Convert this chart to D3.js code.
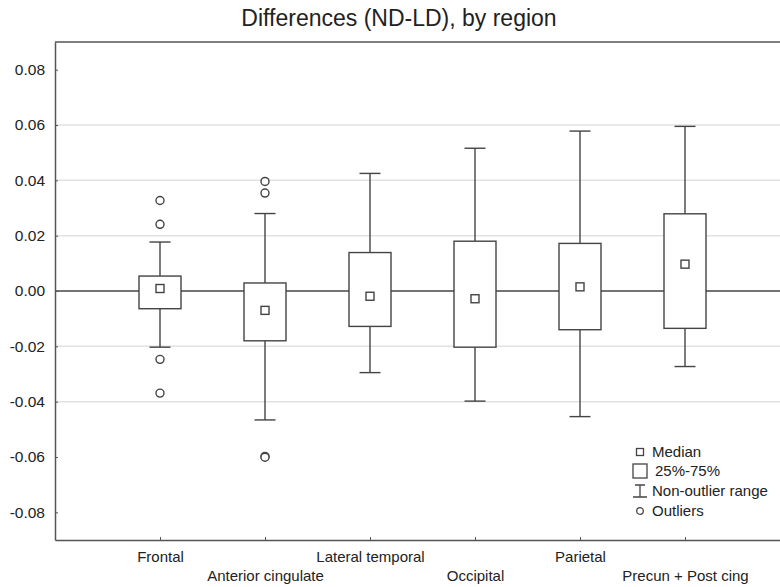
<!DOCTYPE html>
<html lang="en">
<head>
    <meta charset="UTF-8">
    <title>Differences (ND-LD), by region</title>
    <style>
        body {
            margin: 0;
            background-color: #fff;
            font-family: "Liberation Sans", Arial, sans-serif;
        }
        svg text {
            fill: #222;
        }
    </style>
</head>
<body>
    <div id="chart"></div>
    <script src="https://d3js.org/d3.v7.min.js"></script>
    <script>
        // Values
        const categories = ["Frontal", "Anterior cingulate", "Lateral temporal", "Occipital", "Parietal", "Precun + Post cing"];
        const whiskerHigh = [0.0177, 0.0280, 0.0425, 0.0516, 0.0578, 0.0595];
        const q3 = [0.0054, 0.0029, 0.0139, 0.0180, 0.0172, 0.0279];
        const medians = [0.0009, -0.0070, -0.0019, -0.0028, 0.0015, 0.0097];
        const q1 = [-0.0064, -0.0180, -0.0128, -0.0203, -0.0140, -0.0135];
        const whiskerLow = [-0.0203, -0.0466, -0.0295, -0.0398, -0.0454, -0.0273];
        const outliers = [
            [0.0327, 0.0241, -0.0247, -0.0369],
            [0.0396, 0.0354, -0.0598, -0.0601],
            [], [], [], []
        ];
        const yTicks = [-0.08, -0.06, -0.04, -0.02, 0, 0.02, 0.04, 0.06, 0.08];
        const gridTicks = [-0.04, -0.02, 0.02, 0.04, 0.06];
        const legendLabels = ["Median", "25%-75%", "Non-outlier range", "Outliers"];

        const W = 780, H = 587;
        const margin = { top: 42, left: 55, bottom: 47 };
        const plotRight = 790; // plot runs past the window edge
        const plotBottom = H - margin.bottom;

        const svg = d3.select("#chart")
            .append("svg")
            .attr("width", W)
            .attr("height", H);

        const x = d3.scalePoint()
            .domain(categories)
            .range([margin.left, plotRight])
            .padding(1);

        const y = d3.scaleLinear()
            .domain([-0.09, 0.09])
            .range([plotBottom, margin.top]);

        const ink = "#444";
        const fmt = d3.format(".2f");

        // title
        svg.append("text")
            .attr("x", 399)
            .attr("y", 26)
            .attr("text-anchor", "middle")
            .style("font-size", "23px")
            .text("Differences (ND-LD), by region");

        // grid
        svg.append("g")
            .selectAll("line")
            .data(gridTicks)
            .enter()
            .append("line")
            .attr("x1", margin.left)
            .attr("x2", plotRight)
            .attr("y1", d => y(d))
            .attr("y2", d => y(d))
            .attr("stroke", "#e2e2e2")
            .attr("stroke-width", 1.5);

        // zero line
        svg.append("line")
            .attr("x1", margin.left)
            .attr("x2", plotRight)
            .attr("y1", y(0))
            .attr("y2", y(0))
            .attr("stroke", ink)
            .attr("stroke-width", 1.4);

        // top frame
        svg.append("line")
            .attr("x1", margin.left)
            .attr("x2", plotRight)
            .attr("y1", margin.top)
            .attr("y2", margin.top)
            .attr("stroke", "#555")
            .attr("stroke-width", 1.5);

        // Y axis
        const yAxis = svg.append("g")
            .attr("transform", `translate(${margin.left},0)`)
            .call(d3.axisLeft(y)
                .tickValues(yTicks)
                .tickFormat(d => fmt(d).replace("\u2212", "-"))
                .tickSizeInner(-3)
                .tickSizeOuter(0)
                .tickPadding(10));
        yAxis.select(".domain").attr("stroke", "#555").attr("stroke-width", 1.5);
        yAxis.selectAll(".tick line").attr("stroke", "#555");
        yAxis.selectAll("text")
            .style("font-size", "15.5px")
            .style("font-family", "'Liberation Sans', Arial, sans-serif")
            .attr("fill", "#222");

        // X axis
        const xAxis = svg.append("g")
            .attr("transform", `translate(0,${plotBottom})`)
            .call(d3.axisBottom(x)
                .tickSizeInner(-3)
                .tickSizeOuter(0));
        xAxis.select(".domain").attr("stroke", "#555").attr("stroke-width", 1.5);
        xAxis.selectAll(".tick line").attr("stroke", "#555");
        xAxis.selectAll("text")
            .attr("y", (d, i) => i % 2 ? 41 : 22)
            .attr("dy", 0)
            .style("font-size", "15px")
            .style("font-family", "'Liberation Sans', Arial, sans-serif")
            .attr("fill", "#222");

        // boxes
        const boxW = 42, capW = 21, medS = 8;
        const boxes = svg.append("g")
            .selectAll("g")
            .data(categories)
            .enter()
            .append("g");

        boxes.append("line")
            .attr("x1", d => x(d))
            .attr("x2", d => x(d))
            .attr("y1", (d, i) => y(whiskerHigh[i]))
            .attr("y2", (d, i) => y(whiskerLow[i]))
            .attr("stroke", ink)
            .attr("stroke-width", 1.4);

        boxes.selectAll(".cap")
            .data((d, i) => [{ c: d, v: whiskerHigh[i] }, { c: d, v: whiskerLow[i] }])
            .enter()
            .append("line")
            .attr("class", "cap")
            .attr("x1", d => x(d.c) - capW / 2)
            .attr("x2", d => x(d.c) + capW / 2)
            .attr("y1", d => y(d.v))
            .attr("y2", d => y(d.v))
            .attr("stroke", ink)
            .attr("stroke-width", 1.4);

        boxes.append("rect")
            .attr("x", d => x(d) - boxW / 2)
            .attr("y", (d, i) => y(q3[i]))
            .attr("width", boxW)
            .attr("height", (d, i) => y(q1[i]) - y(q3[i]))
            .attr("fill", "#fff")
            .attr("stroke", ink)
            .attr("stroke-width", 1.4);

        boxes.append("rect")
            .attr("x", d => x(d) - medS / 2)
            .attr("y", (d, i) => y(medians[i]) - medS / 2)
            .attr("width", medS)
            .attr("height", medS)
            .attr("fill", "#fff")
            .attr("stroke", ink)
            .attr("stroke-width", 1.4);

        boxes.selectAll("circle")
            .data((d, i) => outliers[i].map(v => ({ c: d, v: v })))
            .enter()
            .append("circle")
            .attr("cx", d => x(d.c))
            .attr("cy", d => y(d.v))
            .attr("r", 4)
            .attr("fill", "#fff")
            .attr("stroke", ink)
            .attr("stroke-width", 1.4);

        // legend
        const lg = svg.append("g").attr("transform", "translate(640,0)");
        const rowY = [452, 471, 491, 511];

        lg.append("rect")
            .attr("x", -3.5).attr("y", rowY[0] - 3.5)
            .attr("width", 7).attr("height", 7)
            .attr("fill", "#fff").attr("stroke", ink).attr("stroke-width", 1.3);
        lg.append("rect")
            .attr("x", -7).attr("y", rowY[1] - 7)
            .attr("width", 14).attr("height", 14)
            .attr("fill", "#fff").attr("stroke", ink).attr("stroke-width", 1.3);
        lg.append("path")
            .attr("d", `M-5,${rowY[2] - 6}H5M0,${rowY[2] - 6}V${rowY[2] + 6}M-7,${rowY[2] + 6}H7`)
            .attr("fill", "none").attr("stroke", ink).attr("stroke-width", 1.3);
        lg.append("circle")
            .attr("cx", 0).attr("cy", rowY[3])
            .attr("r", 3.3)
            .attr("fill", "#fff").attr("stroke", ink).attr("stroke-width", 1.3);

        lg.selectAll("text")
            .data(legendLabels)
            .enter()
            .append("text")
            .attr("x", (d, i) => i === 1 ? 15 : 12)
            .attr("y", (d, i) => rowY[i] + 5)
            .style("font-size", "15px")
            .text(d => d);
    </script>
</body>
</html>
